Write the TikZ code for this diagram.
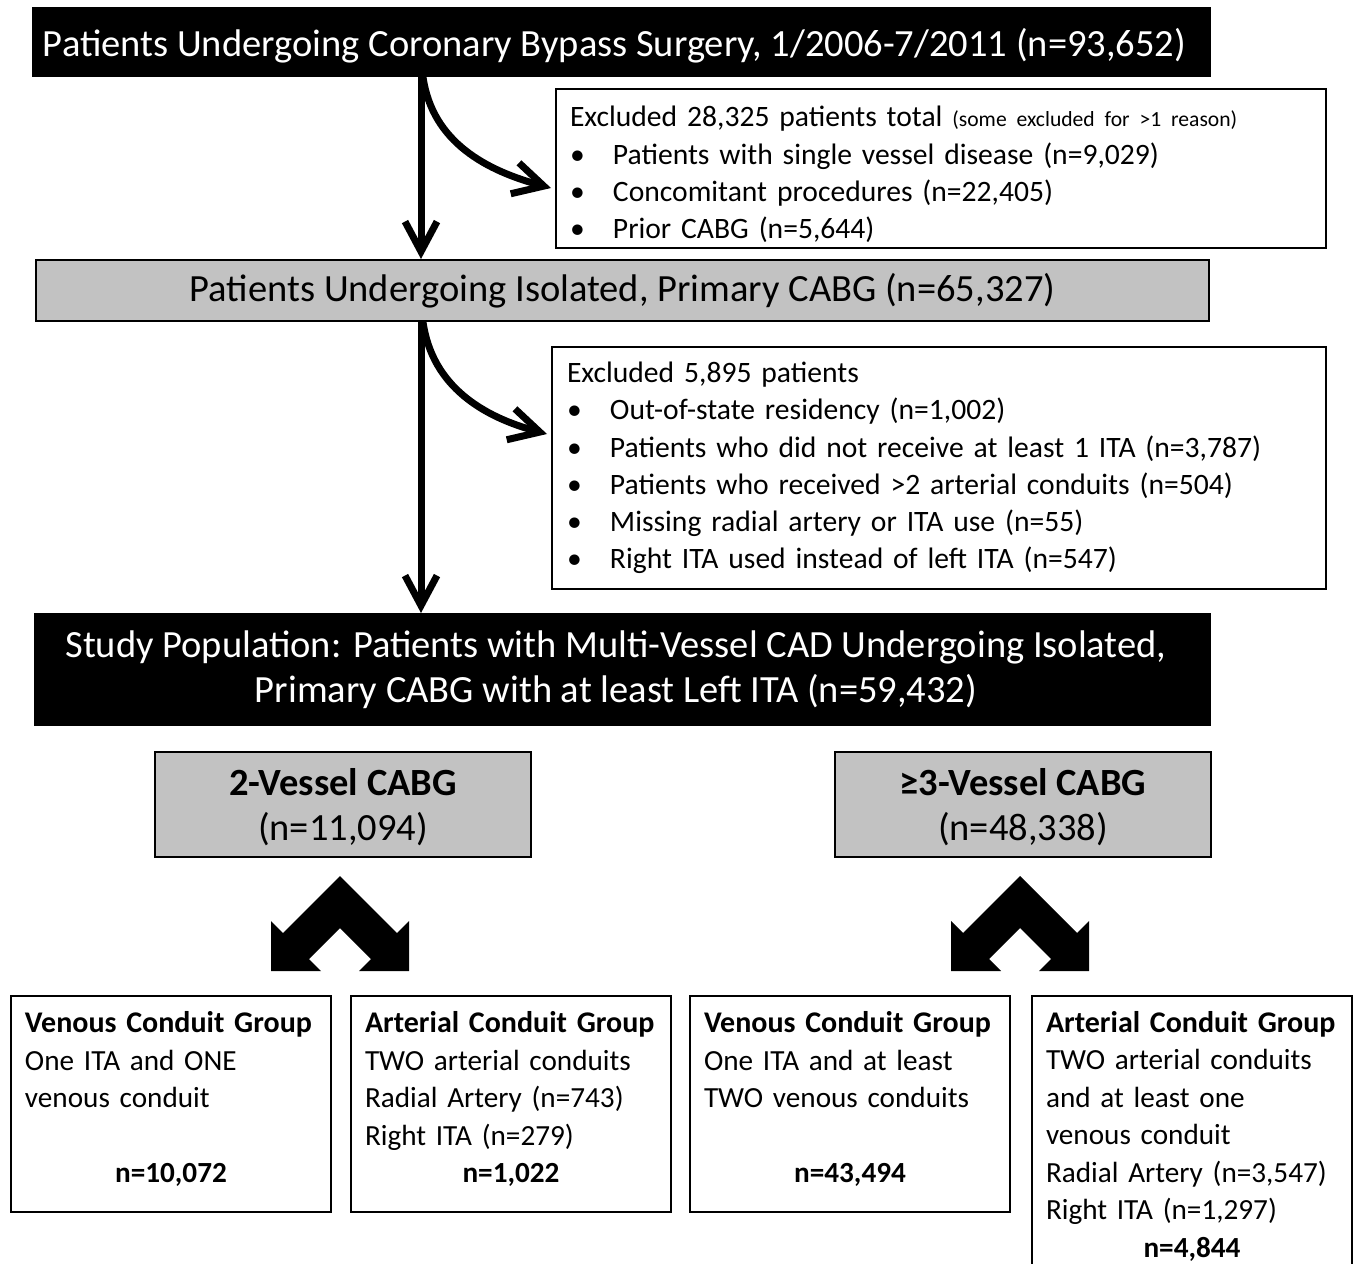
\documentclass[tikz,border=0pt]{standalone}
\usepackage{fontspec}
\setmainfont{Carlito}
\usepackage{tikz}
\usetikzlibrary{arrows.meta,calc}
\definecolor{boxgray}{RGB}{194,194,194}
\newcommand{\itm}{\makebox[21.5pt][l]{\textbullet}}
\newcommand{\hd}[1]{{\fontsize{15}{18.75}\selectfont\bfseries #1}}
\newcommand{\cnt}[1]{\par\centering\textbf{#1}\par\vspace{5pt}\hrule height 0pt}

\begin{document}
\begin{tikzpicture}[x=0.5pt,y=-0.5pt,
  main/.style={draw=black, line width=1pt, fill=black, text=white,
    font=\fontsize{19.25}{22.5}\selectfont, align=center, inner sep=0pt},
  grey/.style={draw=black, line width=1pt, fill=boxgray,
    font=\fontsize{19.25}{22.5}\selectfont, align=center, inner sep=0pt},
  excl/.style={draw=black, line width=1pt, fill=white, anchor=north west,
    font=\fontsize{14.8}{18.6}\selectfont, align=left, inner xsep=7pt, inner ysep=0pt},
  grp/.style={draw=black, line width=1pt, anchor=north west,
    font=\fontsize{14.6}{18.75}\selectfont, align=left, text width=146pt,
    inner xsep=7pt, inner ysep=7.5pt, minimum height=108pt},
  flow/.style={line width=3.5pt, -{Straight Barb[length=15pt,width=16pt]}}]
\path[use as bounding box, clip] (0,0) rectangle (1359,1263);

% top of the chart
\node[main, minimum width=588.5pt, minimum height=34pt, text depth=0pt] (top) at (621.5,42)
  {Patients Undergoing Coronary Bypass Surgery, 1/2006-7/2011 (n=93,652)\hspace*{7pt}};
\node[excl, text width=371pt, minimum height=79.5pt] (ex1) at (555,88)
  {Excluded 28,325 patients total {\fontsize{10.8}{13}\selectfont (some excluded for >1 reason)}\\
   \itm Patients with single vessel disease (n=9,029)\\
   \itm Concomitant procedures (n=22,405)\\
   \itm Prior CABG (n=5,644)\par\vspace{-6pt}\hrule height 0pt};
\node[grey, minimum width=586.5pt, minimum height=30.5pt] (mid) at (622.5,290.5)
  {Patients Undergoing Isolated, Primary CABG (n=65,327)};
\node[excl, text width=372pt, inner xsep=7.5pt, minimum height=121pt] (ex2) at (551,346)
  {Excluded 5,895 patients\\
   \itm Out-of-state residency (n=1,002)\\
   \itm Patients who did not receive at least 1 ITA (n=3,787)\\
   \itm Patients who received >2 arterial conduits (n=504)\\
   \itm Missing radial artery or ITA use (n=55)\\
   \itm Right ITA used instead of left ITA (n=547)};
\node[main, minimum width=587.5pt, minimum height=55.5pt, text depth=2.5pt] (study) at (622.5,669.5)
  {Study Population: Patients with Multi-Vessel CAD Undergoing Isolated,\hspace*{6.5pt}\\
   Primary CABG with at least Left ITA (n=59,432)\hspace*{6.5pt}};

% arrows
\coordinate (spine) at (421,0);
\draw[flow] (top.south -| spine) -- (mid.north -| spine);
\draw[flow] ($(top.south -| spine)+(2,0)$) to[out=-82,in=165] ($(ex1.west)+(-4,19.5)$);
\draw[flow] (mid.south -| spine) -- (study.north -| spine);
\draw[flow] ($(mid.south -| spine)+(2,0)$) to[out=-82,in=165] ($(ex2.west)+(-4,-34)$);

% vessel groups
\node[grey, minimum width=188pt, minimum height=52.5pt, text depth=0pt] (two) at (343,804.5)
  {\textbf{2-Vessel CABG}\\(n=11,094)};
\node[grey, minimum width=188pt, minimum height=52.5pt, text depth=0pt] (three) at (1023,804.5)
  {\textbf{≥3-Vessel CABG}\\(n=48,338)};

\foreach \g in {two,three}
  \fill[shift={($(\g.south)+(-3,18)$)}] (0,0) -- (-57,57) -- (-69,45) -- (-69,95)
    -- (-19,95) -- (-31,83) -- (0,52) -- (31,83) -- (19,95) -- (69,95) -- (69,45)
    -- (57,57) -- cycle;

% conduit groups
\node[grp] (g1) at (10,995)
  {\hd{Venous Conduit Group}\\One ITA and ONE\\venous conduit\\\mbox{}\cnt{n=10,072}};
\node[grp] (g2) at (350,995)
  {\hd{Arterial Conduit Group}\\TWO arterial conduits\\Radial Artery (n=743)\\Right ITA (n=279)\cnt{n=1,022}};
\node[grp] (g3) at (689,995)
  {\hd{Venous Conduit Group}\\One ITA and at least\\TWO venous conduits\\\mbox{}\cnt{n=43,494}};
\node[grp] (g4) at (1031,995)
  {\hd{Arterial Conduit Group}\\TWO arterial conduits\\and at least one\\venous conduit\\Radial Artery (n=3,547)\\Right ITA (n=1,297)\cnt{n=4,844}};
\end{tikzpicture}
\end{document}
